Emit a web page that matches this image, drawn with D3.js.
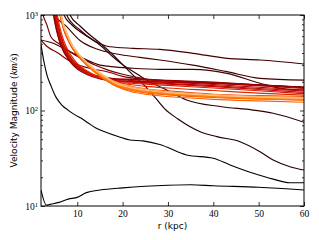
<!DOCTYPE html>
<html>
<head>
<meta charset="utf-8">
<script src="https://cdn.jsdelivr.net/npm/d3@7"></script>
<style>
  body { margin: 0; background: #fff; }
  svg { display: block; }
</style>
</head>
<body>
<svg id="chart" width="319" height="240"></svg>
<script>
///////////////////////////////////////////////////////////////////////////////
// Data (r in kpc, velocity in km/s)

// dark / black profiles
var bottomR = [2, 3.2, 4, 6, 8, 10, 12, 15, 20, 25, 30, 35, 40, 50, 60];
var bottomV = [14.7, 10.2, 10.4, 10.9, 11.8, 12.3, 13.8, 14.7, 15.5, 16.1, 16.5, 16.7, 16.3, 15.7, 14.7];

var steepR = [2, 2.66, 3.32, 4.2, 5.3, 6.6, 7.95, 9.5, 10.8, 12.4, 14.1, 15.9, 19, 21.6, 24.5, 28.2, 34.1, 40, 43.7, 48.8, 53.2, 56.9, 60];
var steepV = [485, 322, 235, 181, 138, 114, 101, 90, 83.4, 74, 65.6, 60.3, 53.4, 49.1, 48, 44, 34.2, 31.6, 26.9, 22, 19.1, 17.5, 17.5];

var crossR = [7.5, 8.4, 10.6, 12.8, 15, 17.9, 20.1, 22.3, 24.9, 27.1, 29.3, 32.2, 37.1, 40.8, 45.9, 50.3, 53.2, 56.9, 60];
var crossV = [1300, 1000, 767, 617, 509, 381, 299, 235, 181, 138, 104, 81.5, 60, 53.2, 47.1, 37, 30.3, 25.8, 23.8];

var midR = [6.3, 7.07, 8.84, 11.7, 15, 17.9, 20.1, 22.4, 25.3, 29.7, 34.1, 41.5, 48.8, 53.2, 60];
var midV = [1300, 1000, 786, 617, 485, 363, 299, 255, 208, 164, 129, 110, 101, 93.5, 75.2];

var highR = [6.8, 7.67, 10.6, 13.5, 17.2, 22.3, 28.2, 35.5, 43, 50.3, 60];
var highV = [1300, 1000, 696, 547, 465, 448, 437, 397, 352, 338, 307];

var upperR = [4.5, 5.1, 7.67, 10.6, 14.3, 18.7, 23.8, 28.2, 35.5, 43, 50.3, 60];
var upperV = [1250, 1000, 754, 540, 440, 390, 360, 338, 299, 255, 217, 208];

var shelfR = [2, 4.7, 7.67, 11.3, 15, 22.3, 28.2, 35.5, 43, 50.3, 56.2, 60];
var shelfV = [547, 505, 430, 352, 299, 277, 270, 270, 245, 193, 167, 164];

// dark red profiles entering the bundle from the left
var edgeR = [2, 2.44, 3.3, 4.2, 5.75, 7.3, 9.5, 11.7, 13.9, 16.8, 20, 25, 30, 40, 50, 60];
var edgeV = [1200, 1000, 786, 589, 509, 451, 381, 338, 299, 265, 240, 215, 205, 195, 185, 175];

var lowEdgeR = [2, 3.5, 5.75, 7.95, 10.2, 12.4, 16.8, 20, 25, 30, 40, 50, 60];
var lowEdgeV = [547, 463, 400, 338, 299, 279, 253, 228, 212, 204, 196, 186, 176];

// the main bundle, all sampled on the same radii
var bundleR = [4, 5, 6, 7, 8, 9, 10, 12, 15, 18, 22, 26, 30, 40, 50, 60];
var bundleV = [
  [1800, 850, 540, 410, 345, 300, 272, 240, 214, 205, 202, 200, 198, 192, 183, 174],
  [2000, 900, 560, 420, 355, 310, 282, 250, 225, 215, 212, 210, 207, 198, 186, 175],
  [2400, 1050, 620, 450, 372, 322, 290, 252, 226, 216, 211, 208, 205, 195, 182, 170],
  [2800, 1200, 680, 480, 388, 330, 296, 255, 225, 212, 206, 202, 198, 187, 175, 164],
  [2200, 1000, 600, 440, 362, 315, 284, 246, 218, 206, 200, 196, 192, 182, 170, 160],
  [3000, 1300, 720, 500, 398, 338, 300, 256, 222, 206, 198, 193, 189, 178, 166, 155],
  [2600, 1150, 660, 470, 380, 325, 290, 250, 216, 200, 193, 188, 183, 172, 161, 150],
  [3500, 1500, 800, 540, 425, 355, 312, 262, 222, 200, 186, 178, 172, 162, 152, 145],
  [5000, 2200, 1100, 700, 540, 440, 380, 305, 240, 200, 178, 166, 160, 148, 143, 140],
  [6000, 2500, 1200, 740, 560, 455, 390, 308, 235, 193, 170, 159, 152, 142, 137, 134],
  [5500, 2400, 1150, 720, 550, 445, 382, 300, 228, 186, 162, 151, 146, 137, 132, 129],
  [7000, 3000, 1300, 780, 590, 470, 400, 310, 232, 185, 157, 146, 140, 131, 126, 122],
  [6500, 2800, 1250, 760, 575, 462, 395, 306, 230, 188, 164, 154, 148, 138, 132, 128],
  [6000, 2700, 1250, 760, 580, 466, 398, 312, 236, 192, 167, 156, 150, 140, 134, 131],
  [6000, 2600, 1200, 750, 575, 465, 400, 318, 245, 200, 175, 163, 156, 145, 139, 135],
  [7000, 3000, 1350, 800, 600, 480, 410, 322, 248, 203, 177, 165, 158, 147, 141, 137],
  [5500, 2500, 1200, 770, 585, 470, 405, 320, 244, 198, 172, 161, 154, 144, 138, 134]
];
// position of each bundle profile on the colour map
var bundleShade = [0.36, 0.40, 0.43, 0.46, 0.49, 0.52, 0.55, 0.58, 0.60, 0.63, 0.66, 0.69, 0.72, 0.75, 0.78, 0.83, 0.88];

var xTicks = [10, 20, 30, 40, 50, 60];
var yMajor = [10, 100, 1000];
var yMinor = [20, 30, 40, 50, 60, 70, 80, 90, 200, 300, 400, 500, 600, 700, 800, 900];

///////////////////////////////////////////////////////////////////////////////
// Layout

var svg = d3.select("#chart");
var plotL = 41, plotR = 304, plotT = 15, plotB = 206;

var x = d3.scaleLinear().domain([2, 60]).range([plotL, plotR]);
var y = d3.scaleLog().domain([10, 1000]).range([plotB, plotT]);

// matplotlib gist_heat
function gistHeat(t) {
  var r = Math.min(1, 1.5 * t);
  var g = Math.max(0, Math.min(1, 2 * t - 1));
  var b = Math.max(0, Math.min(1, 4 * t - 3));
  return d3.rgb(r * 255, g * 255, b * 255).formatHex();
}

var zip = function (rs, vs) {
  return rs.map(function (r, i) { return [r, vs[i]]; });
};

var profiles = [
  { pts: zip(bottomR, bottomV), shade: 0.0 },
  { pts: zip(steepR, steepV), shade: 0.02 },
  { pts: zip(crossR, crossV), shade: 0.08 },
  { pts: zip(midR, midV), shade: 0.12 },
  { pts: zip(highR, highV), shade: 0.17 },
  { pts: zip(upperR, upperV), shade: 0.17 },
  { pts: zip(shelfR, shelfV), shade: 0.18 },
  { pts: zip(edgeR, edgeV), shade: 0.30 },
  { pts: zip(lowEdgeR, lowEdgeV), shade: 0.33 }
];
bundleV.forEach(function (vs, i) {
  profiles.push({ pts: zip(bundleR, vs), shade: bundleShade[i] });
});

svg.append("defs").append("clipPath").attr("id", "plotClip")
  .append("rect")
  .attr("x", plotL).attr("y", plotT)
  .attr("width", plotR - plotL).attr("height", plotB - plotT);

var line = d3.line()
  .x(function (d) { return x(d[0]); })
  .y(function (d) { return y(d[1]); })
  .curve(d3.curveMonotoneX);

svg.append("g").attr("clip-path", "url(#plotClip)")
  .selectAll("path")
  .data(profiles)
  .enter().append("path")
  .attr("d", function (p) { return line(p.pts); })
  .attr("fill", "none")
  .attr("stroke", function (p) { return gistHeat(p.shade); })
  .attr("stroke-width", 1.15)
  .attr("stroke-linejoin", "round");

///////////////////////////////////////////////////////////////////////////////
// Axes (ticks point inwards on all four sides)

var serif = "'Liberation Serif', 'DejaVu Serif', serif";

var styleAxis = function (g) {
  g.select(".domain").remove();
  g.selectAll(".tick line").attr("stroke", "#000").attr("stroke-width", 0.8);
  g.selectAll(".tick text").attr("font-family", serif).attr("font-size", 9.5).attr("fill", "#000");
};

svg.append("g").attr("transform", "translate(0," + plotB + ")")
  .call(d3.axisBottom(x).tickValues(xTicks).tickSize(-4).tickPadding(4).tickFormat(d3.format("d")))
  .call(styleAxis);

svg.append("g").attr("transform", "translate(0," + plotT + ")")
  .call(d3.axisTop(x).tickValues(xTicks).tickSize(-4).tickFormat(""))
  .call(styleAxis);

var yLeft = svg.append("g").attr("transform", "translate(" + plotL + ",0)")
  .call(d3.axisLeft(y).tickValues(yMajor).tickSize(-4).tickPadding(3).tickFormat(function () { return "10"; }))
  .call(styleAxis);
yLeft.selectAll(".tick text").each(function (d) {
  d3.select(this).append("tspan")
    .attr("dy", "-0.45em")
    .attr("font-size", 6.5)
    .text(Math.round(Math.log10(d)));
});

svg.append("g").attr("transform", "translate(" + plotL + ",0)")
  .call(d3.axisLeft(y).tickValues(yMinor).tickSize(-2).tickFormat(""))
  .call(styleAxis);
svg.append("g").attr("transform", "translate(" + plotR + ",0)")
  .call(d3.axisRight(y).tickValues(yMajor).tickSize(-4).tickFormat(""))
  .call(styleAxis);
svg.append("g").attr("transform", "translate(" + plotR + ",0)")
  .call(d3.axisRight(y).tickValues(yMinor).tickSize(-2).tickFormat(""))
  .call(styleAxis);

// frame
svg.append("rect")
  .attr("x", plotL).attr("y", plotT)
  .attr("width", plotR - plotL).attr("height", plotB - plotT)
  .attr("fill", "none").attr("stroke", "#000").attr("stroke-width", 1);

///////////////////////////////////////////////////////////////////////////////
// Labels

svg.append("text")
  .attr("x", (plotL + plotR) / 2).attr("y", 229)
  .attr("text-anchor", "middle")
  .attr("font-family", "'DejaVu Sans', sans-serif").attr("font-size", 9)
  .text("r (kpc)");

var yLabel = svg.append("text")
  .attr("transform", "translate(17," + ((plotT + plotB) / 2) + ") rotate(-90)")
  .attr("text-anchor", "middle")
  .attr("font-family", "'DejaVu Sans', sans-serif").attr("font-size", 9);
yLabel.append("tspan").text("Velocity Magnitude ");
yLabel.append("tspan").attr("font-family", serif).attr("font-size", 10).text("(");
yLabel.append("tspan").attr("font-family", serif).attr("font-style", "italic").attr("font-size", 10).text("km/s");
yLabel.append("tspan").attr("font-family", serif).attr("font-size", 10).text(")");
</script>
</body>
</html>
